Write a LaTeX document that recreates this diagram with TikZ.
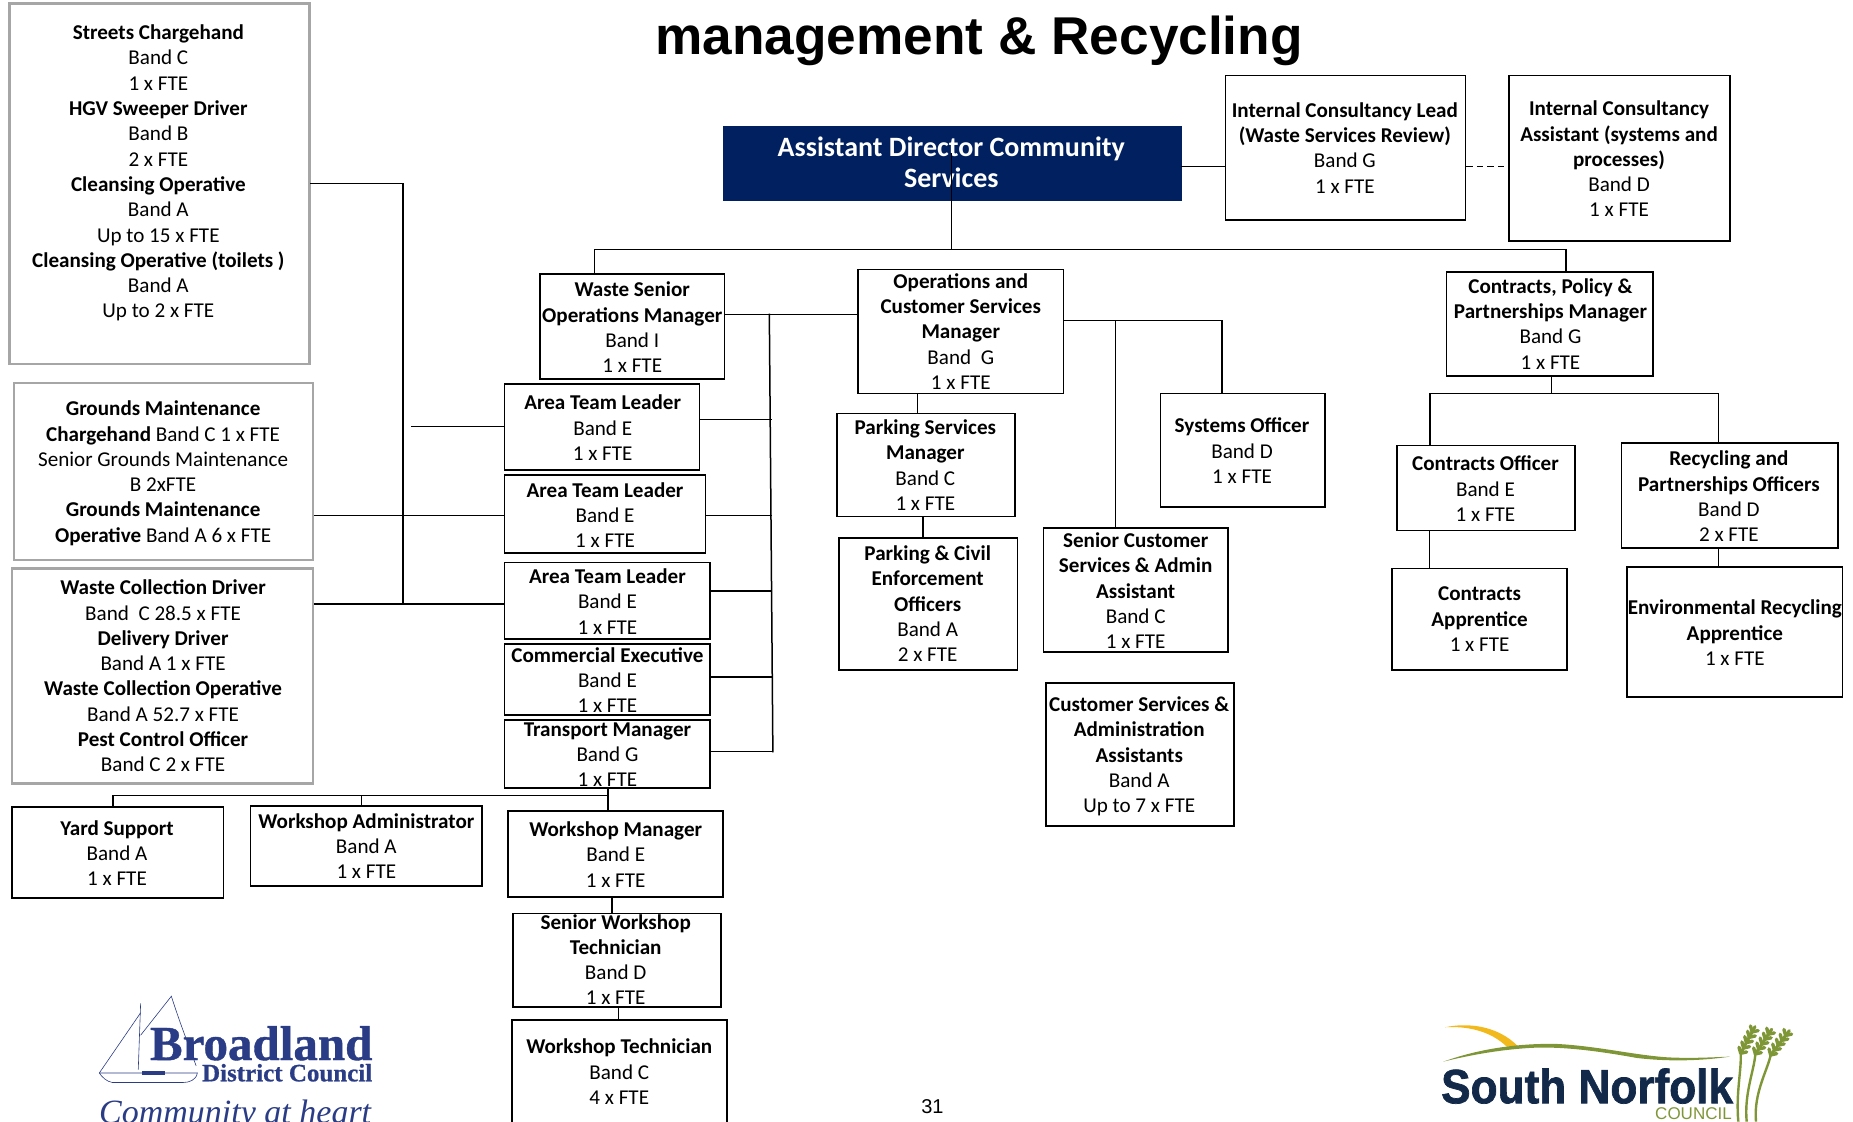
\documentclass[tikz,border=0pt]{standalone}
\usepackage{fontspec}
\setmainfont{Carlito}
\newfontfamily\arialfont{Liberation Sans}
\newfontfamily\timesfont{Liberation Serif}
\newfontfamily\bdcfont[BoldFeatures={FakeBold=.8}]{Liberation Serif}
\newfontfamily\sncfont[BoldFeatures={FakeBold=1.5}]{Liberation Sans}
\usepackage{tikz}
\usetikzlibrary{calc}
\usetikzlibrary{fit}
\definecolor{adnavy}{HTML}{002060}
\definecolor{greyline}{HTML}{A6A6A6}
\definecolor{bdcblue}{HTML}{2A3C85}
\definecolor{sncnavy}{HTML}{12294A}
\definecolor{sncgreen}{HTML}{7F9637}
\definecolor{sncyellow}{HTML}{F2B91D}
\tikzstyle{orgbox} = [draw=black,line width=1.7pt,inner sep=0pt]
\tikzstyle{greybox} = [draw=greyline,line width=2.6pt,inner sep=0pt]
\tikzstyle{orgtext} = [align=center,inner sep=0pt,font=\fontsize{21.1}{25.3}\selectfont]
\tikzstyle{link} = [line width=1.5pt,line cap=rect]
\tikzstyle{thinlink} = [line width=1.1pt,line cap=rect]

\begin{document}
\begin{tikzpicture}[x=1.18176pt,y=-1.18176pt]
\useasboundingbox (0,0) rectangle (1568,949.4);

% title
\node[anchor=base,inner sep=0pt,font=\arialfont\bfseries\fontsize{53.2}{60}\selectfont] (title) at (828.5,46.5) {management \& Recycling};

% left column
\node[greybox,fit={(8,3) (262,308)}] (streets) {};
\node[orgtext] (streetst) at (134,146.5) {\textbf{Streets Chargehand}\\Band C\\1 x FTE\\\textbf{HGV Sweeper Driver}\\Band B\\2 x FTE\\\textbf{Cleansing Operative}\\Band A\\Up to 15 x FTE\\\textbf{Cleansing Operative (toilets )}\\Band A\\Up to 2 x FTE};
\node[greybox,fit={(12,324) (265,474)}] (grounds) {};
\node[orgtext] (groundst) at (138,400.5) {\textbf{Grounds Maintenance}\\\textbf{Chargehand} Band C 1 x FTE\\Senior Grounds Maintenance\\B 2xFTE\\\textbf{Grounds Maintenance}\\\textbf{Operative} Band A 6 x FTE};
\node[greybox,fit={(10,481) (265,663)}] (wastecoll) {};
\node[orgtext] (wastecollt) at (138,572) {\textbf{Waste Collection Driver}\\Band~~C 28.5 x FTE\\\textbf{Delivery Driver}\\Band A 1 x FTE\\\textbf{Waste Collection Operative}\\Band A 52.7 x FTE\\\textbf{Pest Control Officer}\\Band C 2 x FTE};

% waste side
\node[orgbox,fit={(457,232) (613,321)}] (wsom) {};
\node[orgtext] (wsomt) at (535,277) {\textbf{Waste Senior}\\\textbf{Operations Manager}\\Band I\\1 x FTE};
\node[orgbox,fit={(427,325) (592,398)}] (atla) {};
\node[orgtext] (atlat) at (510,362) {\textbf{Area Team Leader}\\Band E\\1 x FTE};
\node[orgbox,fit={(427,402) (597,468)}] (atlb) {};
\node[orgtext] (atlbt) at (512,436) {\textbf{Area Team Leader}\\Band E\\1 x FTE};
\node[orgbox,fit={(427,476) (601,541)}] (atlc) {};
\node[orgtext] (atlct) at (514,509) {\textbf{Area Team Leader}\\Band E\\1 x FTE};
\node[orgbox,fit={(427,545) (601,605)}] (commexec) {};
\node[orgtext] (commexect) at (514,575.5) {\textbf{Commercial Executive}\\Band E\\1 x FTE};
\node[orgbox,fit={(427,609) (601,667)}] (transport) {};
\node[orgtext] (transportt) at (514,638.5) {\textbf{Transport Manager}\\Band G\\1 x FTE};
\node[orgbox,fit={(10,683) (189,760)}] (yard) {};
\node[orgtext] (yardt) at (99,722) {\textbf{Yard Support}\\Band A\\1 x FTE};
\node[orgbox,fit={(212,682) (408,750)}] (wadmin) {};
\node[orgtext] (wadmint) at (310,716) {\textbf{Workshop Administrator}\\Band A\\1 x FTE};
\node[orgbox,fit={(430,686) (612,759)}] (wmanager) {};
\node[orgtext] (wmanagert) at (521,723) {\textbf{Workshop Manager}\\Band E\\1 x FTE};
\node[orgbox,fit={(434,773) (610,852)}] (swt) {};
\node[orgtext] (swtt) at (521,812) {\textbf{Senior Workshop}\\\textbf{Technician}\\Band D\\1 x FTE};
\node[orgbox,fit={(433,863) (615,960)}] (wtech) {};
\node[orgtext] (wtecht) at (524,907) {\textbf{Workshop Technician}\\Band C\\4 x FTE};

% top row
\node[fill=adnavy,inner sep=0pt,fit={(612,107) (1000,170)}] (adir) {};
\node[orgtext,text=white,font=\bfseries\fontsize{28}{31.5}\selectfont] (adirt) at (805,137.5) {Assistant Director Community\\Services};
\node[orgbox,fit={(1037,64) (1240,186)}] (iclead) {};
\node[orgtext] (icleadt) at (1138,125) {\textbf{Internal Consultancy Lead}\\\textbf{(Waste Services Review)}\\Band G\\1 x FTE};
\node[orgbox,fit={(1277,64) (1464,204)}] (icasst) {};
\node[orgtext] (icasstt) at (1370,134.5) {\textbf{Internal Consultancy}\\\textbf{Assistant (systems and}\\\textbf{processes)}\\Band D\\1 x FTE};

% operations side
\node[orgbox,fit={(726,228) (900,333)}] (opsmgr) {};
\node[orgtext] (opsmgrt) at (813,280.5) {\textbf{Operations and}\\\textbf{Customer Services}\\\textbf{Manager}\\Band~~G\\1 x FTE};
\node[orgbox,fit={(708,350) (859,437)}] (parkmgr) {};
\node[orgtext] (parkmgrt) at (783,393.5) {\textbf{Parking Services}\\\textbf{Manager}\\Band C\\1 x FTE};
\node[orgbox,fit={(710,455) (861,567)}] (parkoff) {};
\node[orgtext] (parkofft) at (785,511) {\textbf{Parking \& Civil}\\\textbf{Enforcement}\\\textbf{Officers}\\Band A\\2 x FTE};
\node[orgbox,fit={(883,447) (1039,552)}] (scsa) {};
\node[orgtext] (scsat) at (961,500) {\textbf{Senior Customer}\\\textbf{Services \& Admin}\\\textbf{Assistant}\\Band C\\1 x FTE};
\node[orgbox,fit={(885,578) (1044,699)}] (csaa) {};
\node[orgtext] (csaat) at (964,640) {\textbf{Customer Services \&}\\\textbf{Administration}\\\textbf{Assistants}\\Band A\\Up to 7 x FTE};
\node[orgbox,fit={(982,333) (1121,429)}] (sysoff) {};
\node[orgtext] (sysofft) at (1051,381.5) {\textbf{Systems Officer}\\Band D\\1 x FTE};

% contracts side
\node[orgbox,fit={(1224,230) (1399,318)}] (cpmgr) {};
\node[orgtext] (cpmgrt) at (1312,274) {\textbf{Contracts, Policy \&}\\\textbf{Partnerships Manager}\\Band G\\1 x FTE};
\node[orgbox,fit={(1182,377) (1333,449)}] (coff) {};
\node[orgtext] (cofft) at (1257,413.5) {\textbf{Contracts Officer}\\Band E\\1 x FTE};
\node[orgbox,fit={(1372,375) (1555,464)}] (rpoff) {};
\node[orgtext] (rpofft) at (1463,420) {\textbf{Recycling and}\\\textbf{Partnerships Officers}\\Band D\\2 x FTE};
\node[orgbox,fit={(1178,481) (1326,567)}] (capp) {};
\node[orgtext] (cappt) at (1252,524) {\textbf{Contracts}\\\textbf{Apprentice}\\1 x FTE};
\node[orgbox,fit={(1377,480) (1559,590)}] (erapp) {};
\node[orgtext] (erappt) at (1468,535.5) {\textbf{Environmental Recycling}\\\textbf{Apprentice}\\1 x FTE};

% links at the top
\coordinate (adfoot) at (805,130);
\coordinate (topmid) at (805,211);
\coordinate (topl) at (503,211);
\coordinate (topr) at (1325,211);
\coordinate (dashy) at (1258,141);
\draw[thinlink] (adfoot) -- (topmid);
\draw[link] (wsom.north -| topl) -- (topl) -- (topr) -- (cpmgr.north -| topr);
\draw[link] (adir.east |- dashy) -- (iclead.west |- dashy);
\draw[link,line cap=butt,dash pattern=on 6.5pt off 4pt] (iclead.east |- dashy) -- (icasst.west |- dashy);

% links on the left
\coordinate (sweep) at (341,155);
\coordinate (groundsjoin) at (341,436);
\coordinate (wastejoin) at (341,511);
\coordinate (atlaend) at (348,361);
\draw[thinlink] (streets.east |- sweep) -- (sweep) -- (wastejoin);
\draw[link] (grounds.east |- groundsjoin) -- (atlb.west |- groundsjoin);
\draw[link] (wastecoll.east |- wastejoin) -- (atlc.west |- wastejoin);
\draw[thinlink] (atlaend) -- (atla.west |- atlaend);

% links between the two managers
\coordinate (opsbus) at (651,266);
\coordinate (opsfoot) at (654,636);
\draw[link] (wsom.east |- opsbus) -- (opsmgr.west |- opsbus);
\draw[link] (opsbus) -- (opsfoot);
\foreach \n/\yy in {atla/355,atlb/436,atlc/500,commexec/573,transport/636}{
	\coordinate (tap) at (653,\yy);
	\draw[link] (\n.east |- tap) -- (tap);
}

% links under transport
\coordinate (yardbus) at (514.6,673);
\coordinate (yardl) at (95.5,673);
\coordinate (admintap) at (305.7,673);
\draw[link] (yard.north -| yardl) -- (yardl) -- (yardbus);
\draw[thinlink] (wadmin.north -| admintap) -- (admintap);
\draw[link] (transport.south -| yardbus) -- (wmanager.north -| yardbus);
\coordinate (swtx) at (518,800);
\coordinate (wtechx) at (523,800);
\draw[link] (wmanager.south -| swtx) -- (swt.north -| swtx);
\draw[thinlink] (swt.south -| wtechx) -- (wtech.north -| wtechx);

% links on the operations side
\coordinate (parkx) at (776.5,340);
\coordinate (parkoffx) at (781,440);
\coordinate (sysbus) at (1034,271);
\coordinate (scsabus) at (944,271);
\draw[thinlink] (opsmgr.south -| parkx) -- (parkmgr.north -| parkx);
\draw[link] (parkmgr.south -| parkoffx) -- (parkoff.north -| parkoffx);
\draw[link] (opsmgr.east |- sysbus) -- (sysbus) -- (sysoff.north -| sysbus);
\draw[thinlink] (scsabus) -- (scsa.north -| scsabus);

% links on the contracts side
\coordinate (conmid) at (1312.5,333);
\coordinate (conl) at (1210,333);
\coordinate (conr) at (1454,333);
\draw[thinlink] (cpmgr.south -| conmid) -- (conmid);
\draw[link] (coff.north -| conl) -- (conl) -- (conr) -- (rpoff.north -| conr);
\draw[thinlink] (coff.south -| conl) -- (capp.north -| conl);
\draw[thinlink] (rpoff.south -| conr) -- (erapp.north -| conr);

% page number
\node[inner sep=0pt,font=\arialfont\fontsize{20}{24}\selectfont] (pagenum) at (789,936) {31};

% broadland logo
\draw[bdcblue,line width=.6pt] (119,849) -- (117,905);
\draw[bdcblue,line width=.6pt] (119,876) -- (145,843) .. controls (152,865) and (158,880) .. (166,902);
\draw[bdcblue,line width=.6pt] (119,857) -- (84,908);
\draw[bdcblue,line width=.6pt] (84,908) -- (167,908) .. controls (166,914) and (160,916) .. (155,916) -- (95,916) .. controls (90,915) and (87,912) .. (84,908);
\fill[bdcblue] (120,906) rectangle (140,910);
\node[anchor=base,inner sep=0pt,text=bdcblue,font=\bdcfont\bfseries\fontsize{49}{50}\selectfont] (bdcname) at (221,897) {Broadland};
\node[anchor=base,inner sep=0pt,text=bdcblue,font=\bdcfont\bfseries\fontsize{25}{26}\selectfont] (bdcdistrict) at (243,915) {District Council};
\node[anchor=base,inner sep=0pt,text=bdcblue,font=\timesfont\itshape\fontsize{34}{36}\selectfont] (bdcstrap) at (199,951) {Community at heart};

% south norfolk logo
\begin{scope}[shift={(1142.4,812.3)},x=.3333pt,y=-.3333pt]
\fill[sncyellow] (285,202) .. controls (350,188) and (440,195) .. (503,258) -- (470,260) .. controls (420,212) and (350,198) .. (285,202) -- cycle;
\fill[sncgreen] (280,305) .. controls (400,262) and (520,250) .. (620,252) .. controls (740,258) and (850,285) .. (950,292) .. controls (1020,296) and (1090,292) .. (1140,290) .. controls (1060,302) and (960,306) .. (860,294) .. controls (760,276) and (640,258) .. (540,264) .. controls (440,270) and (350,288) .. (280,305) -- cycle;
\foreach \sx/\tx/\ex/\ey in {1165/1190/1172/280,1190/1228/1216/282,1218/1268/1262/285}{
	\draw[sncgreen,line width=2.4pt] (\sx,485) .. controls (\sx-8,400) and (\tx-15,330) .. (\ex,\ey);
}
\foreach \ax/\ay/\bx/\by in {1172/280/1215/200,1216/282/1265/208,1262/285/1318/212}{
	\draw[sncgreen,line width=3pt,line cap=round] (\ax,\ay) -- (\bx,\by);
	\foreach \t in {0,.2,.4,.6,.8}{
		\coordinate (grain) at ($(\ax,\ay)!\t!(\bx,\by)$);
		\draw[sncgreen,line width=3.4pt,line cap=round] (grain) -- ++(18,-4);
		\draw[sncgreen,line width=3.4pt,line cap=round] (grain) -- ++(-5,-18);
	}
}
\end{scope}
\node[anchor=center,inner sep=0pt,text=sncnavy,font=\sncfont\bfseries\fontsize{48}{50}\selectfont] (sncname) at (1343,919) {\scalebox{.92}[1]{South Norfolk}};
\node[anchor=center,inner sep=0pt,text=sncgreen,font=\arialfont\fontsize{17}{18}\selectfont] (snccouncil) at (1433,942.6) {COUNCIL};

\end{tikzpicture}
\end{document}
